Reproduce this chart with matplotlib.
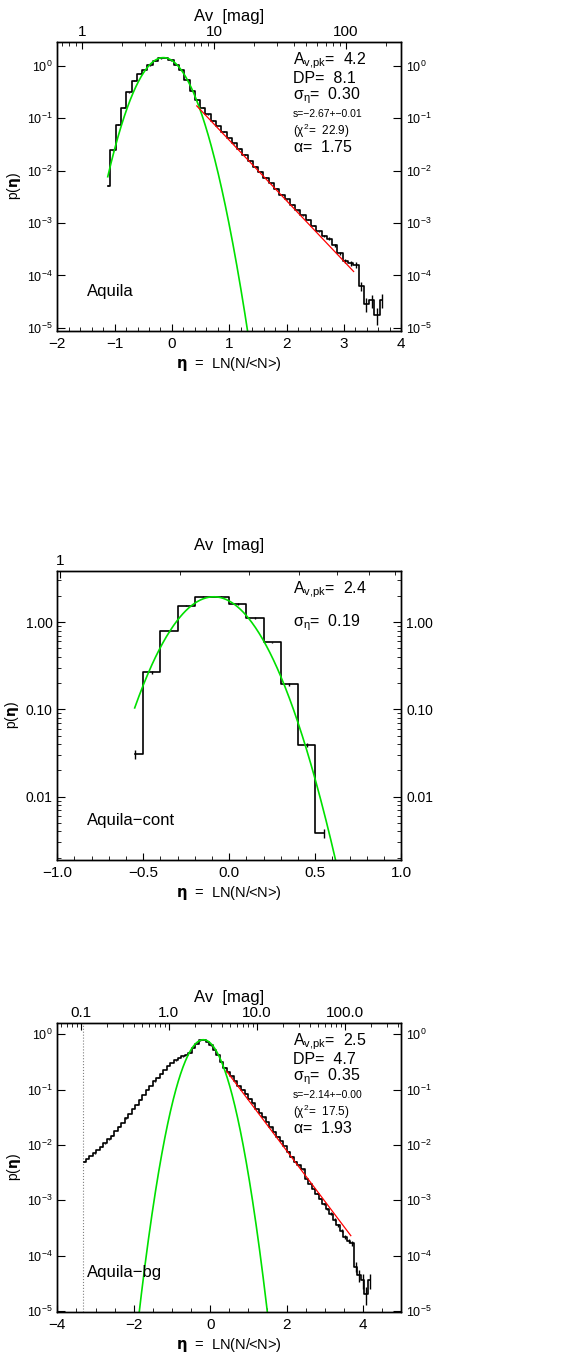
import numpy as np
import matplotlib.pyplot as plt
from matplotlib.ticker import FixedLocator, FixedFormatter, NullFormatter, LogLocator, MultipleLocator

plt.rcParams.update({'font.family': ['Liberation Sans', 'DejaVu Sans'],
                     'mathtext.default': 'regular',
                     'axes.linewidth': 1.0,
                     'xtick.direction': 'in',
                     'ytick.direction': 'in'})

# ---- panel 1 : Aquila ----
eta1_start, eta1_step = -1.12, 0.0921
logp1 = [-2.29, -1.61, -1.13, -0.80, -0.51, -0.29, -0.16, -0.08, 0.01, 0.09,
         0.14, 0.145, 0.10, 0.02, -0.09, -0.27, -0.48, -0.65, -0.80, -0.93,
         -1.05, -1.15, -1.26, -1.38, -1.48, -1.58, -1.70, -1.81, -1.93, -2.02,
         -2.14, -2.24, -2.35, -2.46, -2.55, -2.65, -2.76, -2.85, -2.94, -3.05,
         -3.16, -3.24, -3.30, -3.42, -3.58, -3.72, -3.76, -3.80, -4.20, -4.55,
         -4.47, -4.75, -4.46]
relerr1 = [0.02] * 40 + [0.04, 0.05, 0.06, 0.07, 0.08, 0.10, 0.11, 0.12,
                         0.20, 0.30, 0.28, 0.35, 0.30]
fit1_mu, fit1_sig, fit1_peak = -0.15, 0.30, 1.42
pl1_eta = [0.433, 3.169]
pl1_logp = [-0.768, -3.924]
A0_1 = 4.8

# ---- panel 2 : Aquila-cont ----
eta2 = [-0.55, -0.45, -0.35, -0.25, -0.15, -0.05, 0.05, 0.15, 0.25, 0.35, 0.45, 0.55]
p2 = [0.031, 0.265, 0.79, 1.54, 1.95, 1.95, 1.61, 1.12, 0.585, 0.193, 0.039, 0.0038]
relerr2 = [0.12, 0.03, 0.02, 0.015, 0.015, 0.015, 0.015, 0.02, 0.02, 0.03, 0.05, 0.12]
fit2_mu, fit2_sig, fit2_peak = -0.09, 0.19, 1.95
A0_2 = 2.67

# ---- panel 3 : Aquila-bg ----
eta3_start, eta3_step = -3.30, 0.0923
logp3 = [-2.30, -2.25, -2.20, -2.15, -2.09, -2.03, -1.97, -1.90, -1.83, -1.75,
         -1.67, -1.60, -1.52, -1.44, -1.35, -1.27, -1.18, -1.10, -1.01, -0.93,
         -0.85, -0.78, -0.71, -0.64, -0.57, -0.52, -0.47, -0.43, -0.40, -0.37,
         -0.33, -0.25, -0.17, -0.11, -0.10, -0.13, -0.20, -0.28, -0.37, -0.50,
         -0.60, -0.68, -0.76, -0.84, -0.93, -1.00, -1.07, -1.16, -1.25, -1.35,
         -1.42, -1.50, -1.58, -1.68, -1.76, -1.85, -1.93, -2.02, -2.12, -2.21,
         -2.30, -2.37, -2.44, -2.62, -2.71, -2.80, -2.88, -2.97, -3.06, -3.15,
         -3.24, -3.35, -3.45, -3.55, -3.66, -3.74, -3.78, -4.20, -4.35, -4.45,
         -4.70, -4.45]
relerr3 = [0.01] * 66 + [0.03, 0.03, 0.04, 0.04, 0.05, 0.05, 0.06, 0.07,
                         0.08, 0.09, 0.10, 0.20, 0.25, 0.30, 0.35, 0.30]
fit3_mu, fit3_sig, fit3_peak = -0.18, 0.352, 0.80
pl3_eta = [0.434, 3.68]
pl3_logp = [-0.669, -3.64]
A0_3 = 2.95
eta3_cut = -3.32

green = '#00e000'
ann_y = [0.934, 0.875, 0.815, 0.751, 0.692, 0.638]


def make_panel(rect, xlim, ylim, A0, top_ticks, top_labels, name, xmajor, xminor):
    ax = fig.add_axes(rect)
    ax.set_yscale('log')
    ax.set_xlim(xlim)
    ax.set_ylim(ylim)
    ax.xaxis.set_major_locator(MultipleLocator(xmajor))
    ax.xaxis.set_minor_locator(MultipleLocator(xminor))
    ax.tick_params(axis='x', which='major', length=5, labelsize=11, pad=4, top=False)
    ax.tick_params(axis='x', which='minor', length=3, top=False)
    ax.tick_params(axis='y', which='major', length=6, labelsize=9, right=True, labelright=True)
    ax.tick_params(axis='y', which='minor', length=3, right=True)
    ax.set_xlabel(r'$\mathbf{\eta}$  =  LN(N/<N>)', fontsize=10.5, labelpad=3)
    ax.set_ylabel(r'p($\mathbf{\eta}$)', fontsize=10, labelpad=3)
    ax.text(0.085, 0.12, name, transform=ax.transAxes, fontsize=12)

    top = ax.twiny()
    top.set_xscale('log')
    top.set_xlim(A0 * np.exp(xlim[0]), A0 * np.exp(xlim[1]))
    top.xaxis.set_major_locator(FixedLocator(top_ticks))
    top.xaxis.set_major_formatter(FixedFormatter(top_labels))
    top.xaxis.set_minor_locator(LogLocator(base=10, subs=np.arange(2, 10)))
    top.xaxis.set_minor_formatter(NullFormatter())
    top.tick_params(axis='x', which='major', length=5, labelsize=11, pad=2)
    top.tick_params(axis='x', which='minor', length=3)
    top.set_xlabel('Av  [mag]', fontsize=12, labelpad=3)
    return ax


def annotate(ax, lines, ys):
    for (txt, size), y in zip(lines, ys):
        ax.text(0.685, y, txt, transform=ax.transAxes, fontsize=size, va='center')


fig = plt.figure(figsize=(5.65, 13.58), dpi=100)

decade_labels = [r'10$^{%d}$' % e for e in range(0, -6, -1)]
int_fmt = plt.FuncFormatter(lambda v, pos: ('%d' % v).replace('-', '\u2212'))

# panel 1
ax1 = make_panel([0.1014, 0.7563, 0.6088, 0.2128], (-2, 4), (10 ** -5.057, 10 ** 0.451),
                 A0_1, [1, 10, 100], ['1', '10', '100'], 'Aquila', 1, 0.2)
ax1.yaxis.set_major_locator(FixedLocator([10.0 ** e for e in range(0, -6, -1)]))
ax1.yaxis.set_major_formatter(FixedFormatter(decade_labels))
ax1.yaxis.set_minor_locator(FixedLocator([]))
ax1.xaxis.set_major_formatter(int_fmt)
eta1 = eta1_start + eta1_step * np.arange(len(logp1))
p1 = 10 ** np.array(logp1)
ax1.step(eta1, p1, where='mid', color='k', lw=1.2)
ax1.errorbar(eta1, p1, yerr=p1 * np.array(relerr1), fmt='none', ecolor='k', elinewidth=1)
g1 = np.linspace(eta1[0], 1.5, 300)
ax1.plot(g1, fit1_peak * np.exp(-(g1 - fit1_mu) ** 2 / (2 * fit1_sig ** 2)), color=green, lw=1.2)
ax1.plot(pl1_eta, 10 ** np.array(pl1_logp), color='red', lw=0.9)
annotate(ax1, [(r'A$_{v{,}pk}$=  4.2', 11.5), ('DP=  8.1', 11.5),
               (r'$\sigma_{\eta}$=  0.30', 11.5), ('s=\u22122.67+\u22120.01', 7.5),
               (r'($\chi^2$=  22.9)', 8.5), (r'$\alpha$=  1.75', 11.5)], ann_y)

# panel 2
ax2 = make_panel([0.1014, 0.3667, 0.6088, 0.2130], (-1, 1), (10 ** -2.725, 10 ** 0.588),
                 A0_2, [1], ['1'], 'Aquila\u2212cont', 0.5, 0.1)
ax2.yaxis.set_major_locator(FixedLocator([1.0, 0.1, 0.01]))
ax2.yaxis.set_major_formatter(FixedFormatter(['1.00', '0.10', '0.01']))
ax2.yaxis.set_minor_locator(LogLocator(base=10, subs=np.arange(2, 10)))
ax2.yaxis.set_minor_formatter(NullFormatter())
ax2.tick_params(axis='y', which='major', labelsize=10)
ax2.xaxis.set_major_formatter(plt.FuncFormatter(lambda v, pos: ('%.1f' % v).replace('-', '\u2212')))
p2a = np.array(p2)
ax2.step(eta2, p2a, where='mid', color='k', lw=1.2)
ax2.errorbar(eta2, p2a, yerr=p2a * np.array(relerr2), fmt='none', ecolor='k', elinewidth=1)
g2 = np.linspace(-0.55, 0.7, 300)
ax2.plot(g2, fit2_peak * np.exp(-(g2 - fit2_mu) ** 2 / (2 * fit2_sig ** 2)), color=green, lw=1.2)
annotate(ax2, [(r'A$_{v{,}pk}$=  2.4', 11.5), (r'$\sigma_{\eta}$=  0.19', 11.5)], [0.934, 0.82])

# panel 3
ax3 = make_panel([0.1014, 0.0339, 0.6088, 0.2128], (-4, 5), (10 ** -5.02, 10 ** 0.206),
                 A0_3, [0.1, 1, 10, 100], ['0.1', '1.0', '10.0', '100.0'], 'Aquila\u2212bg', 2, 0.5)
ax3.yaxis.set_major_locator(FixedLocator([10.0 ** e for e in range(0, -6, -1)]))
ax3.yaxis.set_major_formatter(FixedFormatter(decade_labels))
ax3.yaxis.set_minor_locator(FixedLocator([]))
ax3.xaxis.set_major_formatter(int_fmt)
eta3 = eta3_start + eta3_step * np.arange(len(logp3))
p3 = 10 ** np.array(logp3)
ax3.axvline(eta3_cut, color='gray', ls=':', lw=0.8)
ax3.step(eta3, p3, where='mid', color='k', lw=1.2)
ax3.errorbar(eta3, p3, yerr=p3 * np.array(relerr3), fmt='none', ecolor='k', elinewidth=1)
g3 = np.linspace(-2.2, 1.9, 400)
ax3.plot(g3, fit3_peak * np.exp(-(g3 - fit3_mu) ** 2 / (2 * fit3_sig ** 2)), color=green, lw=1.2)
ax3.plot(pl3_eta, 10 ** np.array(pl3_logp), color='red', lw=0.9)
annotate(ax3, [(r'A$_{v{,}pk}$=  2.5', 11.5), ('DP=  4.7', 11.5),
               (r'$\sigma_{\eta}$=  0.35', 11.5), ('s=\u22122.14+\u22120.00', 7.5),
               (r'($\chi^2$=  17.5)', 8.5), (r'$\alpha$=  1.93', 11.5)], ann_y)

fig.savefig('out.png', dpi=100)
